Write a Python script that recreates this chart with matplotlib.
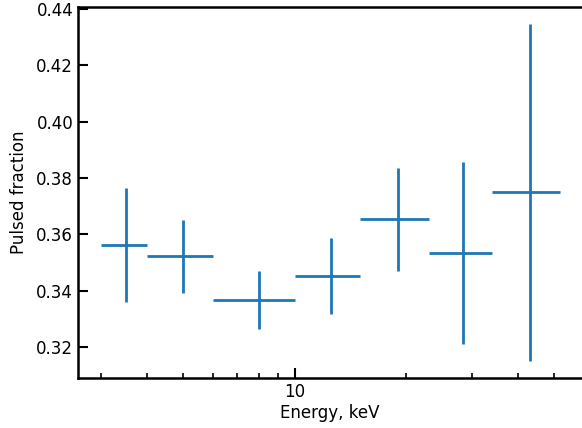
import matplotlib
matplotlib.use("Agg")
import matplotlib.pyplot as plt
from matplotlib.ticker import NullFormatter, FixedLocator, FixedFormatter

energy = [3.5, 5.0, 8.0, 12.5, 19.0, 28.5, 43.0]
energy_lo = [3.0, 4.0, 6.0, 10.0, 15.0, 23.0, 34.0]
energy_hi = [4.0, 6.0, 10.0, 15.0, 23.0, 34.0, 52.0]
pf = [0.3561, 0.3522, 0.3366, 0.3451, 0.3653, 0.3533, 0.3749]
pf_lo = [0.3360, 0.3393, 0.3265, 0.3316, 0.3471, 0.3212, 0.3151]
pf_hi = [0.3765, 0.3651, 0.3470, 0.3587, 0.3835, 0.3857, 0.4347]
yticks = [0.32, 0.34, 0.36, 0.38, 0.40, 0.42, 0.44]
xticks = [10]
xticklabels = ['10']

xerr = [[e - l for e, l in zip(energy, energy_lo)], [h - e for e, h in zip(energy, energy_hi)]]
yerr = [[p - l for p, l in zip(pf, pf_lo)], [h - p for p, h in zip(pf, pf_hi)]]

fig = plt.figure(figsize=(5.82, 4.28), dpi=100)
ax = fig.add_axes([0.134, 0.117, 0.866, 0.867])
ax.errorbar(energy, pf, xerr=xerr, yerr=yerr, fmt='none', ecolor='#1f77b4', elinewidth=2)
ax.set_xscale('log')
ax.set_xlim(2.6, 59.5)
ax.set_ylim(0.309, 0.4408)
ax.yaxis.set_major_locator(FixedLocator(yticks))
ax.yaxis.set_major_formatter(FixedFormatter([f"{v:.2f}" for v in yticks]))
ax.xaxis.set_major_locator(FixedLocator(xticks))
ax.xaxis.set_major_formatter(FixedFormatter(xticklabels))
ax.xaxis.set_minor_formatter(NullFormatter())
ax.tick_params(axis='both', which='major', direction='in', length=7, width=1.5, labelsize=12)
ax.tick_params(axis='both', which='minor', direction='in', length=3.5, width=1.2)
for s in ['left', 'bottom', 'top']:
    ax.spines[s].set_linewidth(1.8)
ax.spines['right'].set_visible(False)
ax.set_xlabel('Energy, keV', fontsize=12, labelpad=2)
ax.set_ylabel('Pulsed fraction', fontsize=12, labelpad=6)
fig.savefig('out.png', dpi=100)
